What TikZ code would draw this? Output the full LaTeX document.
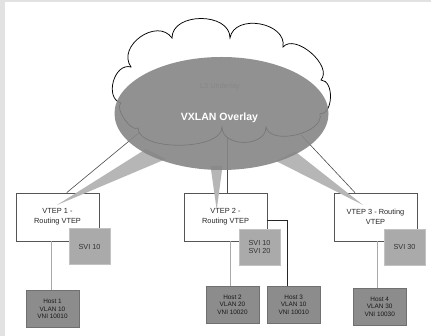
\documentclass[tikz,border=0pt]{standalone}
\usepackage{fontspec}
\setmainfont{Liberation Sans}
\definecolor{framegray}{HTML}{E2E2E2}
\definecolor{vborder}{HTML}{555555}
\definecolor{svifill}{HTML}{AAAAAA}
\definecolor{sviborder}{HTML}{C2C2C2}
\definecolor{hostfill}{HTML}{8C8C8C}
\definecolor{hostborder}{HTML}{707070}
\definecolor{hline}{HTML}{A8A8A8}
\definecolor{beamfill}{HTML}{B6B6B6}
\definecolor{ellfill}{HTML}{868686}
\definecolor{undertext}{HTML}{8A8A8A}
\begin{document}
\begin{tikzpicture}[x=1pt,y=-1pt,
  vtep/.style={draw=vborder, fill=white, line width=0.7pt, minimum width=83pt, minimum height=48pt, inner sep=0pt, align=center, font=\fontsize{7.4}{9.7}\selectfont, text=black!85},
  svi/.style={draw=sviborder, fill=svifill, line width=0.8pt, minimum width=41pt, minimum height=36pt, inner sep=0pt, align=center, font=\fontsize{7.3}{8.6}\selectfont, text=black!80},
  host/.style={draw=hostborder, fill=hostfill, line width=0.8pt, minimum width=53pt, minimum height=37pt, inner sep=0pt, align=center, font=\fontsize{6.4}{7.5}\selectfont, text=black!90},
  hostline/.style={draw=hline, line width=1.1pt},
  blackline/.style={draw=black!85, line width=0.8pt},
  uplink/.style={draw=black!70, line width=0.6pt},
  beam/.style={fill=beamfill, draw=none},
  lobe/.style={bend left=90, looseness=#1},
]
% background and frame
\fill[white] (0,0) rectangle (431,336);
\fill[framegray] (0,0) rectangle (5,336);
\fill[framegray] (0,0) rectangle (431,2);
\useasboundingbox (0,0) rectangle (431,336);

% VTEP boxes
\node[vtep] (v1) at (57.5,217) {VTEP 1 -\\Routing VTEP};
\node[vtep] (v2) at (225.5,217) {VTEP 2 -\\Routing VTEP};
\node[vtep] (v3) at (375.5,217) {VTEP 3 - Routing\\VTEP};

% SVI boxes
\node[svi] (s1) at (89.5,246.5) {SVI 10};
\node[svi] (s2) at (259.5,247) {SVI 10\\SVI 20};
\node[svi] (s3) at (404.5,247) {SVI 30};

% Host boxes
\node[host] (h1) at (52.5,309) {Host 1\\VLAN 10\\VNI 10010};
\node[host] (h2) at (232.5,304.5) {Host 2\\VLAN 20\\VNI 10020};
\node[host] (h3) at (293.7,304.5) {Host 3\\VLAN 10\\VNI 10010};
\node[host] (h4) at (379.7,306.8) {Host 4\\VLAN 30\\VNI 10030};

% host connectors
\coordinate (k1) at (51.7,0);
\coordinate (k2) at (230.5,0);
\coordinate (k4) at (377.5,0);
\draw[hostline] (k1 |- v1.south) -- (k1 |- h1.north);
\draw[hostline] (k2 |- v2.south) -- (k2 |- h2.north);
\draw[hostline] (k4 |- v3.south) -- (k4 |- h4.north);
\coordinate (k3) at (287.7,220);
\draw[blackline] (k3 -| v2.east) -- (k3) -- (k3 |- h3.north);

% beams
\coordinate (b1t) at (57,205);
\coordinate (b2t) at (216.7,210);
\coordinate (b3t) at (363,205);
\fill[beam] (146,149) -- (166,159) -- (b1t) -- cycle;
\fill[beam] (210.5,166) -- (222.5,166) -- (b2t) -- cycle;
\fill[beam] (295,151.4) -- (276,161) -- (b3t) -- cycle;

% uplinks from the underlay cloud to the VTEPs
\coordinate (u1) at (140,132);
\coordinate (u2) at (227,129);
\coordinate (u3) at (301,135);
\coordinate (t1) at (66.7,0);
\coordinate (t2) at (227,0);
\coordinate (t3) at (355,0);
\draw[uplink] (u1) -- (t1 |- v1.north);
\draw[uplink] (u2) -- (t2 |- v2.north);
\draw[uplink] (u3) -- (t3 |- v3.north);

% cloud (L3 underlay)
\coordinate (cA) at (121,103);
\coordinate (cB) at (131,67);
\coordinate (cC) at (172,38);
\coordinate (cD) at (230,38);
\coordinate (cE) at (283,47);
\coordinate (cF) at (321,80);
\coordinate (cG) at (320,114);
\coordinate (cH) at (266,127);
\coordinate (cI) at (222,127);
\coordinate (cJ) at (138,128);
\draw[black, line width=0.75pt, fill=white]
  (cA) to[lobe=1.2] (cB) to[lobe=1.3] (cC) to[lobe=1.15] (cD)
  to[lobe=1.2] (cE) to[lobe=0.95] (cF) to[lobe=1.0] (cG)
  to[lobe=0.9] (cH) to[lobe=1.2] (cI) to[lobe=0.72] (cJ)
  to[lobe=0.7] (cA) -- cycle;
\node[text=undertext, font=\fontsize{7.4}{9}\selectfont, inner sep=0pt] (l3) at (220,87) {L3 Underlay};

% overlay ellipse
\fill[ellfill, opacity=0.9] (221.5,113.5) ellipse [x radius=107, y radius=56.5];
\node[text=white, font=\bfseries\fontsize{10.5}{12}\selectfont, inner sep=0pt] (vx) at (219.5,117.7) {VXLAN Overlay};
\end{tikzpicture}
\end{document}
